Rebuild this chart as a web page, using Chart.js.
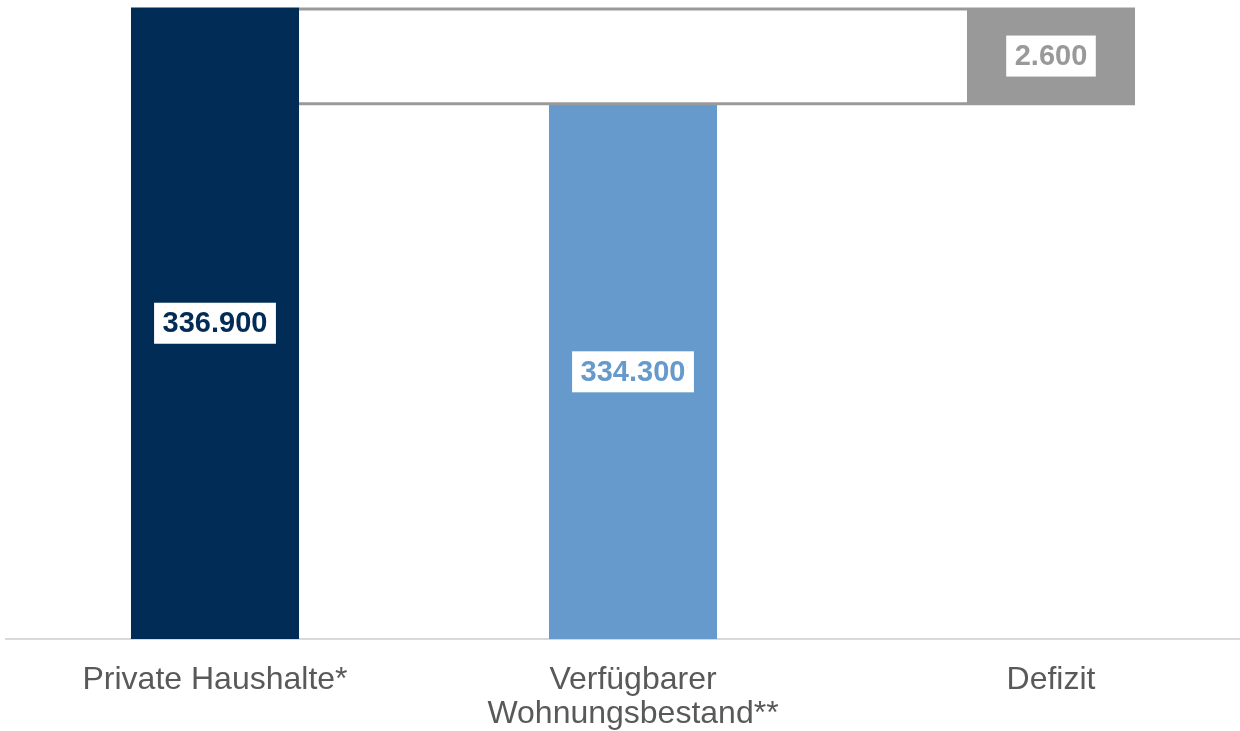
<!DOCTYPE html>
<html>
<head>
<meta charset="utf-8">
<script src="https://cdn.jsdelivr.net/npm/chart.js@4/dist/chart.umd.min.js"></script>
<style>
    html, body { margin: 0; padding: 0; background: #fff; overflow: hidden; }
    #wrap { width: 1260px; height: 731px; }
</style>
</head>
<body>
<div id="wrap"><canvas id="chart" width="1260" height="731"></canvas></div>
<script>
// ---------- DATA ----------
const categories = ["Private Haushalte*", ["Verfügbarer", "Wohnungsbestand**"], "Defizit"];
const values = [336900, 334300, 2600];
const valueLabels = ["336.900", "334.300", "2.600"];
const barColors = ["#002C55", "#669ACC", "#999999"];
const axisMin = 320000;
const axisMax = 337100;

// floating bars: the first two start at the axis floor, the deficit sits on top of the stock
const floating = [
    [axisMin, values[0]],
    [axisMin, values[1]],
    [values[1], values[1] + values[2]]
];

const fontFamily = "'Liberation Sans', Arial, sans-serif";

// ---------- CONNECTOR LINES ----------
const connectors = {
    id: "connectors",
    afterDatasetsDraw(chart) {
        const ctx = chart.ctx;
        const meta = chart.getDatasetMeta(0);
        const y = chart.scales.y;
        const b1 = meta.data[0], b3 = meta.data[2];
        const right1 = b1.x + b1.width / 2;
        const left3 = b3.x - b3.width / 2;
        const right3 = b3.x + b3.width / 2;
        ctx.save();
        ctx.strokeStyle = "#999999";
        ctx.lineWidth = 3;
        // top line at private households level
        let yt = y.getPixelForValue(values[0]) + 1.5;
        ctx.beginPath();
        ctx.moveTo(right1, yt);
        ctx.lineTo(left3, yt);
        ctx.stroke();
        // bottom line at housing stock level
        let yb = y.getPixelForValue(values[1]) - 1;
        ctx.beginPath();
        ctx.moveTo(right1, yb);
        ctx.lineTo(right3, yb);
        ctx.stroke();
        ctx.restore();
    }
};

// ---------- VALUE LABELS ----------
const boxLabels = {
    id: "boxLabels",
    afterDatasetsDraw(chart) {
        const ctx = chart.ctx;
        const meta = chart.getDatasetMeta(0);
        ctx.save();
        ctx.font = "bold 29px " + fontFamily;
        ctx.textAlign = "center";
        ctx.textBaseline = "middle";
        meta.data.forEach((bar, i) => {
            const cx = bar.x;
            const cy = (bar.y + bar.base) / 2;
            const w = ctx.measureText(valueLabels[i]).width + 17;
            const h = 41;
            ctx.fillStyle = "#ffffff";
            ctx.fillRect(cx - w / 2, cy - h / 2, w, h);
            ctx.fillStyle = barColors[i];
            ctx.fillText(valueLabels[i], cx, cy + 1);
        });
        ctx.restore();
    }
};

// ---------- CHART ----------
const ctx = document.getElementById("chart").getContext("2d");
new Chart(ctx, {
    type: "bar",
    data: {
        labels: categories,
        datasets: [{
            data: floating,
            backgroundColor: barColors,
            borderWidth: 0,
            borderSkipped: false,
            barPercentage: 0.402,
            categoryPercentage: 1
        }]
    },
    options: {
        responsive: false,
        animation: false,
        devicePixelRatio: 1,
        layout: { padding: { left: 6, right: 0, top: 0, bottom: 0 } },
        plugins: {
            legend: { display: false },
            tooltip: { enabled: false }
        },
        scales: {
            x: {
                afterFit: (scale) => { scale.height = 92; },
                grid: { display: false, drawTicks: false },
                border: { display: true, color: "#D9D9D9", width: 2 },
                ticks: {
                    color: "#595959",
                    padding: 24,
                    maxRotation: 0,
                    autoSkip: false,
                    font: { family: fontFamily, size: 32, lineHeight: 1.06 }
                }
            },
            y: {
                display: false,
                min: axisMin,
                max: axisMax
            }
        }
    },
    plugins: [connectors, boxLabels]
});
</script>
</body>
</html>
